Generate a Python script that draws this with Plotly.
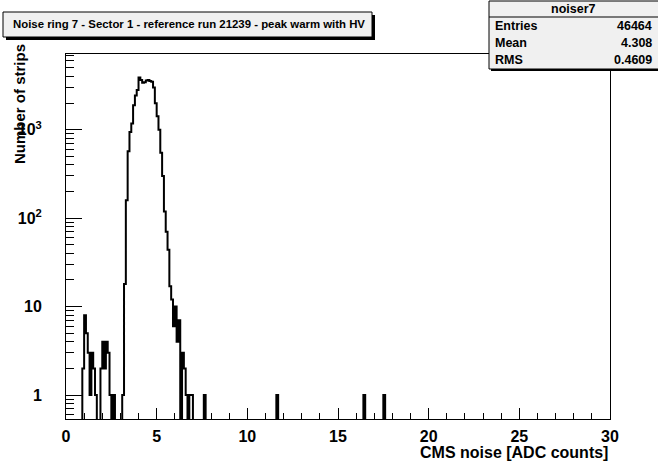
import numpy as np
import plotly.graph_objects as go

# ---------------- data ----------------
x_min, x_max = 0.0, 30.0
n_bins = 300
# lower edges of the non-empty bins (bin width 0.1) and their contents
bin_lo = [0.9, 1.0, 1.1, 1.2, 1.3, 1.4, 1.5, 1.6,
          1.9, 2.0, 2.1, 2.2, 2.3, 2.4, 2.6,
          3.1, 3.2, 3.3, 3.4, 3.5, 3.6, 3.7, 3.8, 3.9,
          4.0, 4.1, 4.2, 4.3, 4.4, 4.5, 4.6, 4.7, 4.8, 4.9,
          5.0, 5.1, 5.2, 5.3, 5.4, 5.5, 5.6, 5.7, 5.8, 5.9,
          6.0, 6.1, 6.2, 6.4, 6.5, 6.6, 6.8, 6.9,
          7.6, 11.6, 16.4, 17.5]
counts = [2, 8, 5, 3, 1, 3, 2, 1,
          2, 4, 2, 4, 3, 1, 1,
          1, 18, 160, 570, 945, 1180, 1890, 2440, 2820,
          3900, 3650, 3400, 3450, 3600, 3650, 3550, 3500, 3000, 2000,
          1420, 1000, 550, 300, 119, 70, 44, 17, 12, 6,
          10, 4, 7, 3, 2, 1, 1, 1,
          1, 1, 1, 1]

hist_name = "noiser7"
stats_labels = ["Entries", "Mean", "RMS"]
stats_values = ["46464", "4.308", "0.4609"]
title_text = "Noise ring 7 - Sector 1 - reference run 21239 - peak warm with HV"
x_title = "CMS noise [ADC counts]"
y_title = "Number of strips"
y_tickvals = [1, 10, 100, 1000]
y_ticktext = ["1", "10", "10<sup>2</sup>", "10<sup>3</sup>"]

# ---------------- geometry ----------------
W, H = 658, 465
L, R, T, B = 66, 610, 54, 419
FONT = "Liberation Sans, Arial, sans-serif"


def px(x):
    return (x - L) / (R - L)


def py(y):
    return (B - y) / (B - T)


edges = np.linspace(x_min, x_max, n_bins + 1)
content = np.zeros(n_bins)
for lo, c in zip(bin_lo, counts):
    content[int(round(lo * 10))] = c
ZERO_FLOOR = 0.05  # empty bins are drawn at the frame bottom (clipped)
plot_vals = np.where(content > 0, content, ZERO_FLOOR)
ys = list(plot_vals) + [plot_vals[-1]]

fig = go.Figure()
fig.add_trace(go.Scatter(
    x=edges, y=ys, mode="lines",
    line=dict(shape="hv", color="black", width=2),
    hoverinfo="skip", showlegend=False))

minor_y = []
for dec in [0.1, 1, 10, 100, 1000]:
    for k in range(2, 10):
        minor_y.append(dec * k)

tickfont = dict(family=FONT, size=16, color="black", weight="bold")
fig.update_layout(
    width=W, height=H,
    margin=dict(l=L, r=W - R, t=T, b=H - B),
    paper_bgcolor="white", plot_bgcolor="white",
    showlegend=False,
    xaxis=dict(range=[x_min, x_max], tickvals=list(range(0, 31, 5)),
               ticks="inside", ticklen=11, tickwidth=1, tickcolor="black",
               minor=dict(dtick=1, ticks="inside", ticklen=6, tickcolor="black"),
               showline=True, linecolor="black", linewidth=1, mirror=True,
               showgrid=False, zeroline=False, tickfont=tickfont,
               ticklabelstandoff=3),
    yaxis=dict(type="log", range=[-0.2715, 3.857],
               tickvals=y_tickvals, ticktext=y_ticktext,
               ticks="inside", ticklen=16, tickwidth=1, tickcolor="black",
               minor=dict(tickvals=minor_y, ticks="inside", ticklen=8,
                          tickcolor="black"),
               showline=True, linecolor="black", linewidth=1, mirror=True,
               showgrid=False, zeroline=False, tickfont=tickfont,
               ticklabelstandoff=20),
)

shapes = []
ann = []
# title pave with shadow
tx0, ty0, tx1, ty1 = 3, 12, 372, 37
shapes.append(dict(type="rect", xref="paper", yref="paper",
                   x0=px(tx0 + 3), x1=px(tx1 + 3), y0=py(ty1 + 3), y1=py(ty0 + 3),
                   fillcolor="black", line=dict(width=0)))
shapes.append(dict(type="rect", xref="paper", yref="paper",
                   x0=px(tx0), x1=px(tx1), y0=py(ty1), y1=py(ty0),
                   fillcolor="#f0f0f0", line=dict(color="black", width=1)))
ann.append(dict(text=title_text, xref="paper", yref="paper",
                x=px((tx0 + tx1) / 2 + 1), y=py((ty0 + ty1) / 2),
                xanchor="center", yanchor="middle", showarrow=False,
                font=dict(family=FONT, size=11.4, color="black", weight="bold")))

# stats box
sx0, sy0, sx1, sy1 = 489, 1, 660, 69
shapes.append(dict(type="rect", xref="paper", yref="paper",
                   x0=px(sx0 + 2), x1=px(sx1 + 2), y0=py(sy1 + 2), y1=py(sy0 + 2),
                   fillcolor="black", line=dict(width=0)))
shapes.append(dict(type="rect", xref="paper", yref="paper",
                   x0=px(sx0), x1=px(sx1), y0=py(sy1), y1=py(sy0),
                   fillcolor="#f0f0f0", line=dict(color="black", width=1)))
shapes.append(dict(type="line", xref="paper", yref="paper",
                   x0=px(sx0), x1=px(sx1), y0=py(17), y1=py(17),
                   line=dict(color="black", width=1)))
sfont = dict(family=FONT, size=12.5, color="black", weight="bold")
ann.append(dict(text=hist_name, xref="paper", yref="paper",
                x=px((sx0 + 658) / 2), y=py(9), xanchor="center", yanchor="middle",
                showarrow=False, font=sfont))
for i, (lab, val) in enumerate(zip(stats_labels, stats_values)):
    yy = 26 + 17 * i
    ann.append(dict(text=lab, xref="paper", yref="paper", x=px(sx0 + 4), y=py(yy),
                    xanchor="left", yanchor="middle", showarrow=False, font=sfont))
    ann.append(dict(text=val, xref="paper", yref="paper", x=px(654), y=py(yy),
                    xanchor="right", yanchor="middle", showarrow=False, font=sfont))

# axis titles
afont = dict(family=FONT, size=16, color="black", weight="bold")
ann.append(dict(text=x_title, xref="paper", yref="paper", x=1.0, y=py(452),
                xanchor="right", yanchor="middle", showarrow=False, font=afont))
ann.append(dict(text=y_title, xref="paper", yref="paper", x=px(20), y=py(42),
                xanchor="center", yanchor="top", textangle=-90,
                showarrow=False, font=dict(family=FONT, size=15, color="black",
                                           weight="bold")))

fig.update_layout(shapes=shapes, annotations=ann)
fig.write_html("out.html", config={"displayModeBar": False},
               post_script="document.body.style.margin='0px';"
                           "document.body.style.overflow='hidden';")
